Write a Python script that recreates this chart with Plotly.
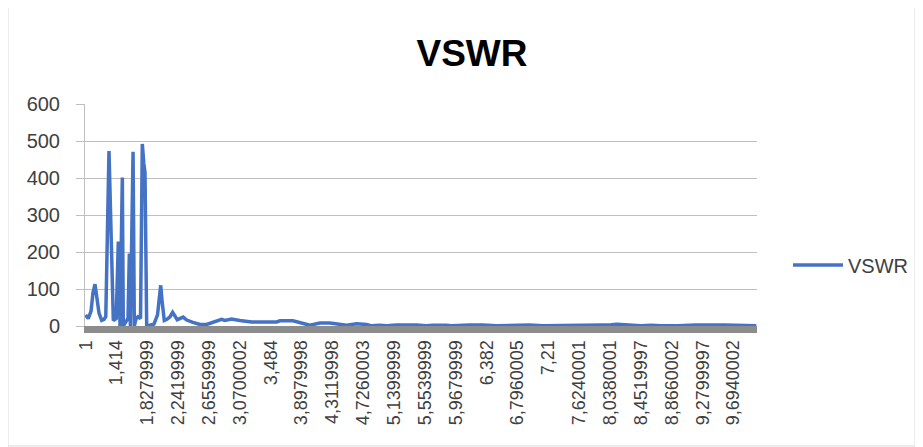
import plotly.graph_objects as go

# Frequency points and VSWR values
freq = [1.0, 1.035, 1.072, 1.098, 1.125, 1.152, 1.179, 1.215, 1.246, 1.27, 1.313, 1.371,
        1.41, 1.438, 1.461, 1.492, 1.505,
        1.551, 1.568, 1.586, 1.60, 1.636, 1.653, 1.676, 1.70, 1.736, 1.76, 1.78, 1.796,
        1.819, 1.863, 1.917, 1.964, 1.984, 2.007, 2.024, 2.055, 2.09, 2.132, 2.167, 2.199,
        2.229, 2.309, 2.355, 2.44,
        2.533, 2.623, 2.72, 2.824, 2.868, 2.958, 3.069, 3.226, 3.562, 3.608, 3.782, 3.848,
        4.009, 4.143, 4.277, 4.502, 4.636, 4.770, 4.837, 4.948, 5.04, 5.17, 5.44, 5.57,
        5.66, 5.84, 5.91, 6.15, 6.33, 6.51, 6.78, 6.96, 7.13, 7.72, 7.93, 8.05, 8.13, 8.29,
        8.45, 8.59, 8.72, 8.95, 9.18, 9.58, 9.72, 9.86, 10.0]
vswr = [30, 20, 40, 90, 113, 80, 35, 15, 18, 25, 473, 15,
        20, 228, 0, 401, 0,
        15, 20, 196, 0, 471, 0, 20, 25, 20, 492, 440, 415,
        0, 3, 5, 30, 70, 110, 70, 15, 18, 25, 37, 28,
        17, 24, 16, 10,
        4, 4, 10, 18, 15, 19, 15, 11, 11, 14, 14, 11,
        2, 8, 8, 2, 6, 4, 0.5, 2, 1, 3, 3, 0.5,
        2, 2, 0.5, 3, 3, 0.5, 3, 3, 1, 1, 3, 3.5, 4.5, 2.5,
        0.5, 2, 0.5, 0.5, 3, 3, 2, 0.5, 0.5]

x_tick_labels = ["1", "1,414", "1,8279999", "2,2419999", "2,6559999", "3,0700002",
                 "3,484", "3,8979998", "4,3119998", "4,7260003", "5,1399999", "5,5539999",
                 "5,9679999", "6,382", "6,7960005", "7,21", "7,6240001", "8,0380001",
                 "8,4519997", "8,8660002", "9,2799997", "9,6940002"]
x_tick_vals = [float(s.replace(",", ".")) for s in x_tick_labels]

y_ticks = [0, 100, 200, 300, 400, 500, 600]

OFF = 8  # page body margin
W, H = 923 - OFF, 447 - OFF
# plot area in page pixels -> figure pixels
L, R, T, B = 85 - OFF, 757 - OFF, 104 - OFF, 326 - OFF


def px_x(p):
    return (p - OFF - L) / (R - L)


def px_y(p):
    return (B - (p - OFF)) / (B - T)


fig = go.Figure()
fig.add_trace(go.Scatter(
    x=freq, y=vswr, mode="lines", name="VSWR",
    line=dict(color="#4472C4", width=3.5),
    cliponaxis=False,
))

grid = "#bfbfbf"
fig.update_layout(
    width=W, height=H,
    margin=dict(l=L, r=W - R, t=T, b=H - B, autoexpand=False),
    paper_bgcolor="white", plot_bgcolor="white",
    font=dict(family="Liberation Sans, Arial, sans-serif", color="#595959"),
    title=dict(text="<b>VSWR</b>", x=(472 - OFF) / W, xref="container", xanchor="center",
               y=1 - (53 - OFF) / H, yref="container", yanchor="middle",
               font=dict(size=37, color="#000000", family="Liberation Sans, Arial, sans-serif")),
    showlegend=True,
    legend=dict(x=px_x(788), xanchor="left", y=px_y(265), yanchor="middle",
                itemwidth=50,
                font=dict(size=20, color="#404040"), bgcolor="rgba(0,0,0,0)"),
    xaxis=dict(
        range=[0.991, 10.009], tickmode="array", tickvals=x_tick_vals, ticktext=x_tick_labels,
        tickangle=-90, showgrid=False, zeroline=False,
        showline=True, linecolor="#8c8c8c", linewidth=7,
        ticks="", tickfont=dict(size=18, color="#404040"),
    ),
    yaxis=dict(
        range=[0, 600], tickvals=y_ticks, showgrid=True, gridcolor=grid, gridwidth=1,
        zeroline=False, showline=True, linecolor=grid, linewidth=1,
        ticks="outside", ticklen=8, tickcolor=grid, ticklabelstandoff=12,
        tickfont=dict(size=20, color="#404040"),
    ),
    shapes=[dict(type="rect", xref="paper", yref="paper",
                 x0=px_x(8), x1=px_x(915),
                 y0=px_y(446), y1=px_y(1),
                 line=dict(color="#d9d9d9", width=1), fillcolor="rgba(0,0,0,0)", layer="below")],
)

fig.write_html("out.html")
